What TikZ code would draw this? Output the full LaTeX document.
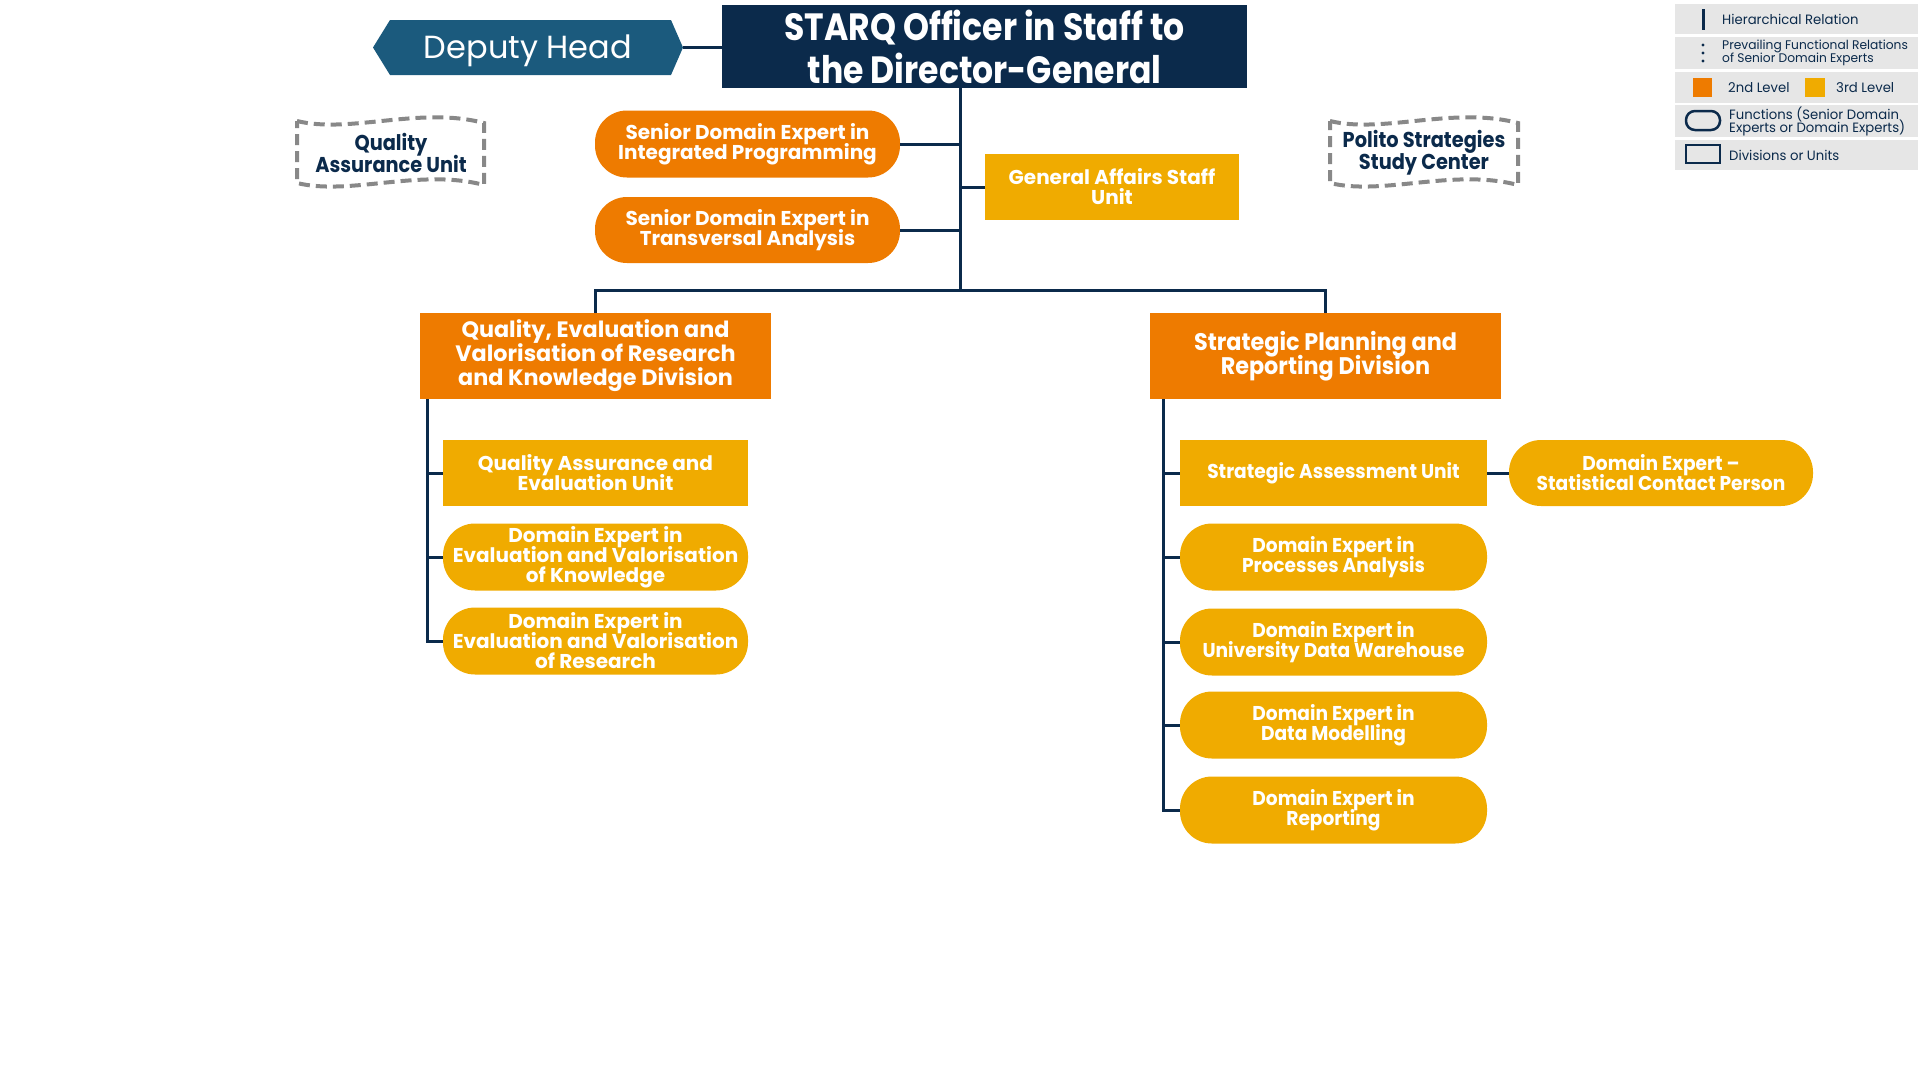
\documentclass[tikz,border=0pt]{standalone}
\usepackage{fontspec}
\setmainfont{Poppins}
\newfontfamily\semif{Poppins}
\newfontfamily\condf[FakeStretch=0.93]{Poppins}
\newfontfamily\xcondf[FakeStretch=0.87]{Poppins}
\newfontfamily\legf[FakeStretch=0.98]{Poppins}
\newfontfamily\wavf[FakeStretch=0.9]{Poppins}
\definecolor{navy}{HTML}{0B2A4B}
\definecolor{depblue}{HTML}{1B5A7D}
\definecolor{orgL}{HTML}{EE7B00}
\definecolor{ambL}{HTML}{F0AB00}
\definecolor{dashgray}{HTML}{888888}
\definecolor{legbg}{HTML}{E6E6E6}
\newcommand{\tightlines}{\lineskiplimit=-40pt\lineskip=0pt}
\begin{document}
\begin{tikzpicture}[x=1pt,y=-1pt,
  conn/.style={draw=navy, line width=3pt},
  boxbase/.style={inner sep=0pt, align=center, text=white},
  lvtwo/.style={boxbase, fill=orgL},
  lvthree/.style={boxbase, fill=ambL},
  pill/.style={rounded corners=32pt},
  txtA/.style={font=\semif\bfseries\fontsize{20}{20}\selectfont\tightlines},
  txtB/.style={font=\condf\bfseries\fontsize{20}{20}\selectfont\tightlines},
  wavy/.style={draw=dashgray, line width=4pt, dash pattern=on 11pt off 6pt},
  wavytext/.style={text=navy, align=center, font=\wavf\bfseries\fontsize{21.5}{22}\selectfont\tightlines},
  legrow/.style={fill=legbg, inner sep=0pt, minimum width=243pt},
  legtext/.style={anchor=west, inner sep=0pt, text=navy, align=left, font=\legf\fontsize{13.5}{13}\selectfont\tightlines}
]
\useasboundingbox (0,0) rectangle (1920,1080);

% ---------- top ----------
\node[boxbase, fill=navy, minimum width=525pt, minimum height=83pt,
      font=\xcondf\bfseries\fontsize{38}{43}\selectfont\tightlines] (starq) at (984.5,46.5)
      {STARQ Officer in Staff to\\the Director-General};
\fill[depblue] (373,47.5) -- (390,20) -- (671,20) -- (683,47.5) -- (671,75) -- (390,75) -- cycle;
\node[text=white, inner sep=0pt, font=\fontsize{32}{32}\selectfont] (deputy) at (528,51) {Deputy Head};
\coordinate (deputyR) at (683,47.5);
\draw[conn] (deputyR) -- (deputyR -| starq.west);

% ---------- wavy boxes ----------
\draw[wavy] (297,121) .. controls (350,134) and (420,106) .. (484,123) -- (484,185)
  .. controls (420,168) and (350,196) .. (297,183) -- cycle;
\node[wavytext] (qau) at (391,153) {Quality\\Assurance Unit};
\draw[wavy] (1330,121) .. controls (1383,134) and (1453,106) .. (1518,123) -- (1518,185)
  .. controls (1453,168) and (1383,196) .. (1330,183) -- cycle;
\node[wavytext] (polito) at (1424,153) {Polito Strategies\\Study Center};

% ---------- staff ----------
\node[lvtwo, pill, txtA, minimum width=305pt, minimum height=67pt] (sde1) at (747.5,144) {Senior Domain Expert in\\Integrated Programming};
\node[lvtwo, pill, txtA, minimum width=305pt, minimum height=66pt] (sde2) at (747.5,230) {Senior Domain Expert in\\Transversal Analysis};
\node[lvthree, txtA, minimum width=254pt, minimum height=66pt] (gas) at (1112,187) {General Affairs Staff\\Unit};

\coordinate (bus) at (960,290);
\draw[conn] (bus |- starq.south) -- (bus);
\draw[conn] (sde1.east) -- (sde1.east -| bus);
\draw[conn] (sde2.east) -- (sde2.east -| bus);
\draw[conn] (gas.west -| bus) -- (gas.west);

% ---------- divisions ----------
\node[lvtwo, minimum width=351pt, minimum height=86pt,
      font=\semif\bfseries\fontsize{22.3}{24}\selectfont\tightlines] (div1) at (595.5,356)
      {Quality, Evaluation and\\Valorisation of Research\\and Knowledge Division};
\node[lvtwo, minimum width=351pt, minimum height=86pt,
      font=\condf\bfseries\fontsize{24}{24}\selectfont\tightlines] (div2) at (1325.5,356)
      {Strategic Planning and\\Reporting Division};
\draw[conn] (div1.north) |- (bus) -| (div2.north);

% ---------- left children ----------
\node[lvthree, txtA, minimum width=305pt, minimum height=66pt] (qaeu) at (595.5,473) {Quality Assurance and\\Evaluation Unit};
\node[lvthree, pill, txtA, minimum width=305pt, minimum height=67pt] (dek) at (595.5,557) {Domain Expert in\\Evaluation and Valorisation\\of Knowledge};
\node[lvthree, pill, txtA, minimum width=305pt, minimum height=67pt] (der) at (595.5,641) {Domain Expert in\\Evaluation and Valorisation\\of Research};
\coordinate (lsp) at (427,399);
\draw[conn] (div1.south -| lsp) |- (der.west);
\draw[conn] (lsp) |- (qaeu.west);
\draw[conn] (lsp) |- (dek.west);

% ---------- right children ----------
\node[lvthree, txtB, minimum width=307pt, minimum height=66pt] (sau) at (1333.5,473) {Strategic Assessment Unit};
\node[lvthree, pill, txtB, minimum width=307pt, minimum height=67pt] (dpa) at (1333.5,557) {Domain Expert in\\Processes Analysis};
\node[lvthree, pill, txtB, minimum width=307pt, minimum height=67pt] (dudw) at (1333.5,642) {Domain Expert in\\University Data Warehouse};
\node[lvthree, pill, txtB, minimum width=307pt, minimum height=67pt] (ddm) at (1333.5,725) {Domain Expert in\\Data Modelling};
\node[lvthree, pill, txtB, minimum width=307pt, minimum height=67pt] (drep) at (1333.5,810) {Domain Expert in\\Reporting};
\node[lvthree, pill, txtB, minimum width=304pt, minimum height=66pt] (stat) at (1661,473) {Domain Expert –\\Statistical Contact Person};
\coordinate (rsp) at (1163,399);
\draw[conn] (div2.south -| rsp) |- (drep.west);
\draw[conn] (rsp) |- (sau.west);
\draw[conn] (rsp) |- (dpa.west);
\draw[conn] (rsp) |- (dudw.west);
\draw[conn] (rsp) |- (ddm.west);
\draw[conn] (sau.east) -- (stat.west);

% ---------- legend ----------
\node[legrow, minimum height=30pt] (lg1) at (1796.5,19) {};
\node[legrow, minimum height=32pt] (lg2) at (1796.5,53) {};
\node[legrow, minimum height=31pt] (lg3) at (1796.5,87.5) {};
\node[legrow, minimum height=32pt] (lg4) at (1796.5,121) {};
\node[legrow, minimum height=30pt] (lg5) at (1796.5,155) {};
\draw[navy, line width=3pt] (1703,9) -- (1703,30);
\foreach \yy in {45,53,61} \fill[navy] (1703,\yy) circle (1.6pt);
\fill[orgL] (1693,78) rectangle (1712,97);
\fill[ambL] (1805,78) rectangle (1825,97);
\draw[navy, line width=2.5pt, rounded corners=9pt] (1686,111) rectangle (1720,130);
\draw[navy, line width=2.5pt] (1686,145) rectangle (1720,163);
\node[legtext] (lt1) at (1722,19) {Hierarchical Relation};
\node[legtext, font=\legf\fontsize{12.5}{13}\selectfont\tightlines] (lt2) at (1722,53) {Prevailing Functional Relations\\of Senior Domain Experts};
\node[legtext] (lt3a) at (1728,88) {2nd Level};
\node[legtext] (lt3b) at (1836,88) {3rd Level};
\node[legtext] (lt4) at (1729,121) {Functions (Senior Domain\\Experts or Domain Experts)};
\node[legtext] (lt5) at (1729,155) {Divisions or Units};
\end{tikzpicture}
\end{document}
